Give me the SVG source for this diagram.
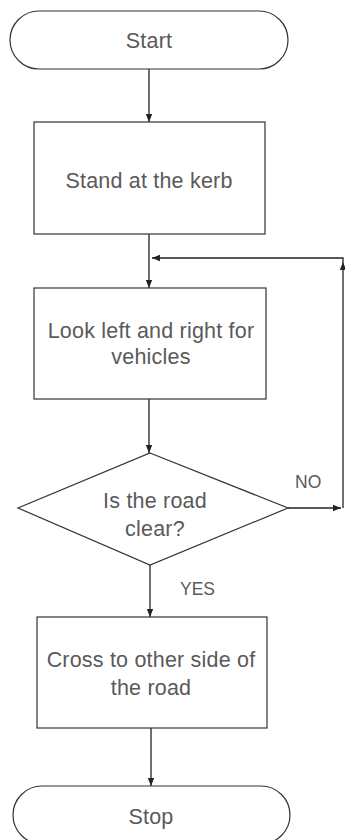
<svg xmlns="http://www.w3.org/2000/svg" width="345" height="840" viewBox="0 0 345 840">
<style>
.shape{fill:#fff;stroke:#333;stroke-width:1.2}
.conn{fill:none;stroke:#222;stroke-width:1.3}
.t{font-family:"Liberation Sans",Arial,sans-serif;font-size:21.5px;letter-spacing:0.2px;fill:#5a5a5a;text-anchor:middle}
.lbl{font-family:"Liberation Sans",Arial,sans-serif;font-size:17.5px;fill:#5a5a5a}
</style>
<defs>
<marker id="ah" viewBox="0 0 10 10" refX="10" refY="5" markerWidth="8" markerHeight="8" markerUnits="userSpaceOnUse" orient="auto">
<path d="M0,1 L10,5 L0,9 z" fill="#222"/>
</marker>
</defs>
<rect width="345" height="840" fill="#fff"/>
<g id="connectors">
<line class="conn" x1="149" y1="69" x2="149" y2="122" marker-end="url(#ah)"/>
<line class="conn" x1="149" y1="234" x2="149" y2="288" marker-end="url(#ah)"/>
<line class="conn" x1="149" y1="399" x2="149" y2="453" marker-end="url(#ah)"/>
<line class="conn" x1="150" y1="565" x2="150" y2="617" marker-end="url(#ah)"/>
<line class="conn" x1="151" y1="728" x2="151" y2="786" marker-end="url(#ah)"/>
<path class="conn" d="M288 508 H341" marker-end="url(#ah)"/>
<path class="conn" d="M343 508 V262" marker-end="url(#ah)"/>
<path class="conn" d="M343 262 V258 H152" marker-end="url(#ah)"/>
</g>
<g id="start">
<rect class="shape" x="10" y="11" width="278" height="58" rx="29" ry="29"/>
<text class="t" x="149" y="48">Start</text>
</g>
<g id="stand">
<rect class="shape" x="34" y="122" width="231" height="112"/>
<text class="t" x="149" y="188">Stand at the kerb</text>
</g>
<g id="look">
<rect class="shape" x="34" y="288" width="232" height="111"/>
<text class="t" x="151" y="338">Look left and right for</text>
<text class="t" x="151" y="364">vehicles</text>
</g>
<g id="decision">
<polygon class="shape" points="150,453 288,508 150,565 18,508"/>
<text class="t" x="155" y="508">Is the road</text>
<text class="t" x="155" y="536">clear?</text>
</g>
<g id="cross">
<rect class="shape" x="37" y="617" width="230" height="111"/>
<text class="t" x="151" y="667">Cross to other side of</text>
<text class="t" x="151" y="695">the road</text>
</g>
<g id="stop">
<rect class="shape" x="13" y="786" width="277" height="58" rx="29" ry="29"/>
<text class="t" x="151" y="824">Stop</text>
</g>
<g id="labels">
<text class="lbl" x="295" y="488">NO</text>
<text class="lbl" x="180" y="595">YES</text>
</g>
</svg>
